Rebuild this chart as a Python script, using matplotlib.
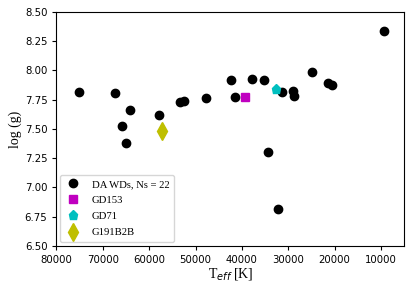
import matplotlib
matplotlib.use("Agg")
import matplotlib.pyplot as plt

# DA white dwarfs
da_teff = [75050, 67360, 65800, 65050, 64130, 57860, 53360, 52500, 47820, 42300,
           41580, 37920, 35270, 34470, 32320, 31460, 28960, 28740, 24860, 21330,
           20470, 9270]
da_logg = [7.818, 7.807, 7.527, 7.376, 7.658, 7.616, 7.727, 7.738, 7.766, 7.915,
           7.775, 7.926, 7.915, 7.304, 6.816, 7.815, 7.823, 7.783, 7.986, 7.890,
           7.875, 8.335]

gd153_teff = [39360]
gd153_logg = [7.775]
gd71_teff = [32750]
gd71_logg = [7.838]
g191_teff = [57300]
g191_logg = [7.485]

xticks = [80000, 70000, 60000, 50000, 40000, 30000, 20000, 10000]
yticks = [6.50, 6.75, 7.00, 7.25, 7.50, 7.75, 8.00, 8.25, 8.50]

fig = plt.figure(figsize=(4.15, 2.91), dpi=100)
ax = fig.add_axes([0.136, 0.155, 0.838, 0.804])

serif = ['Liberation Serif', 'DejaVu Serif']

ax.plot(da_teff, da_logg, 'o', color='black', ms=6, ls='none', label='DA WDs, Ns = 22')
ax.plot(gd153_teff, gd153_logg, 's', color='#c000c0', ms=6, ls='none', label='GD153')
ax.plot(gd71_teff, gd71_logg, 'p', color='#00bfbf', ms=6.5, ls='none', label='GD71')
ax.plot(g191_teff, g191_logg, 'd', color='#bfbf00', ms=9, ls='none', label='G191B2B')

ax.set_xlim(80000, 5000)
ax.set_ylim(6.5, 8.5)
ax.set_xticks(xticks)
ax.set_yticks(yticks)
ax.tick_params(labelsize=7.3, length=3)

ax.set_xlabel(r'T$_{eff}$ [K]', fontsize=10, family=serif, labelpad=1)
ax.set_ylabel('log (g)', fontsize=10, family=serif, labelpad=2)

leg = ax.legend(loc='lower left', prop={'family': serif, 'size': 7.7},
                borderpad=0.45, handlelength=1.5, handletextpad=1.0,
                labelspacing=0.62, borderaxespad=0.35)

fig.savefig('out.png', dpi=100)
